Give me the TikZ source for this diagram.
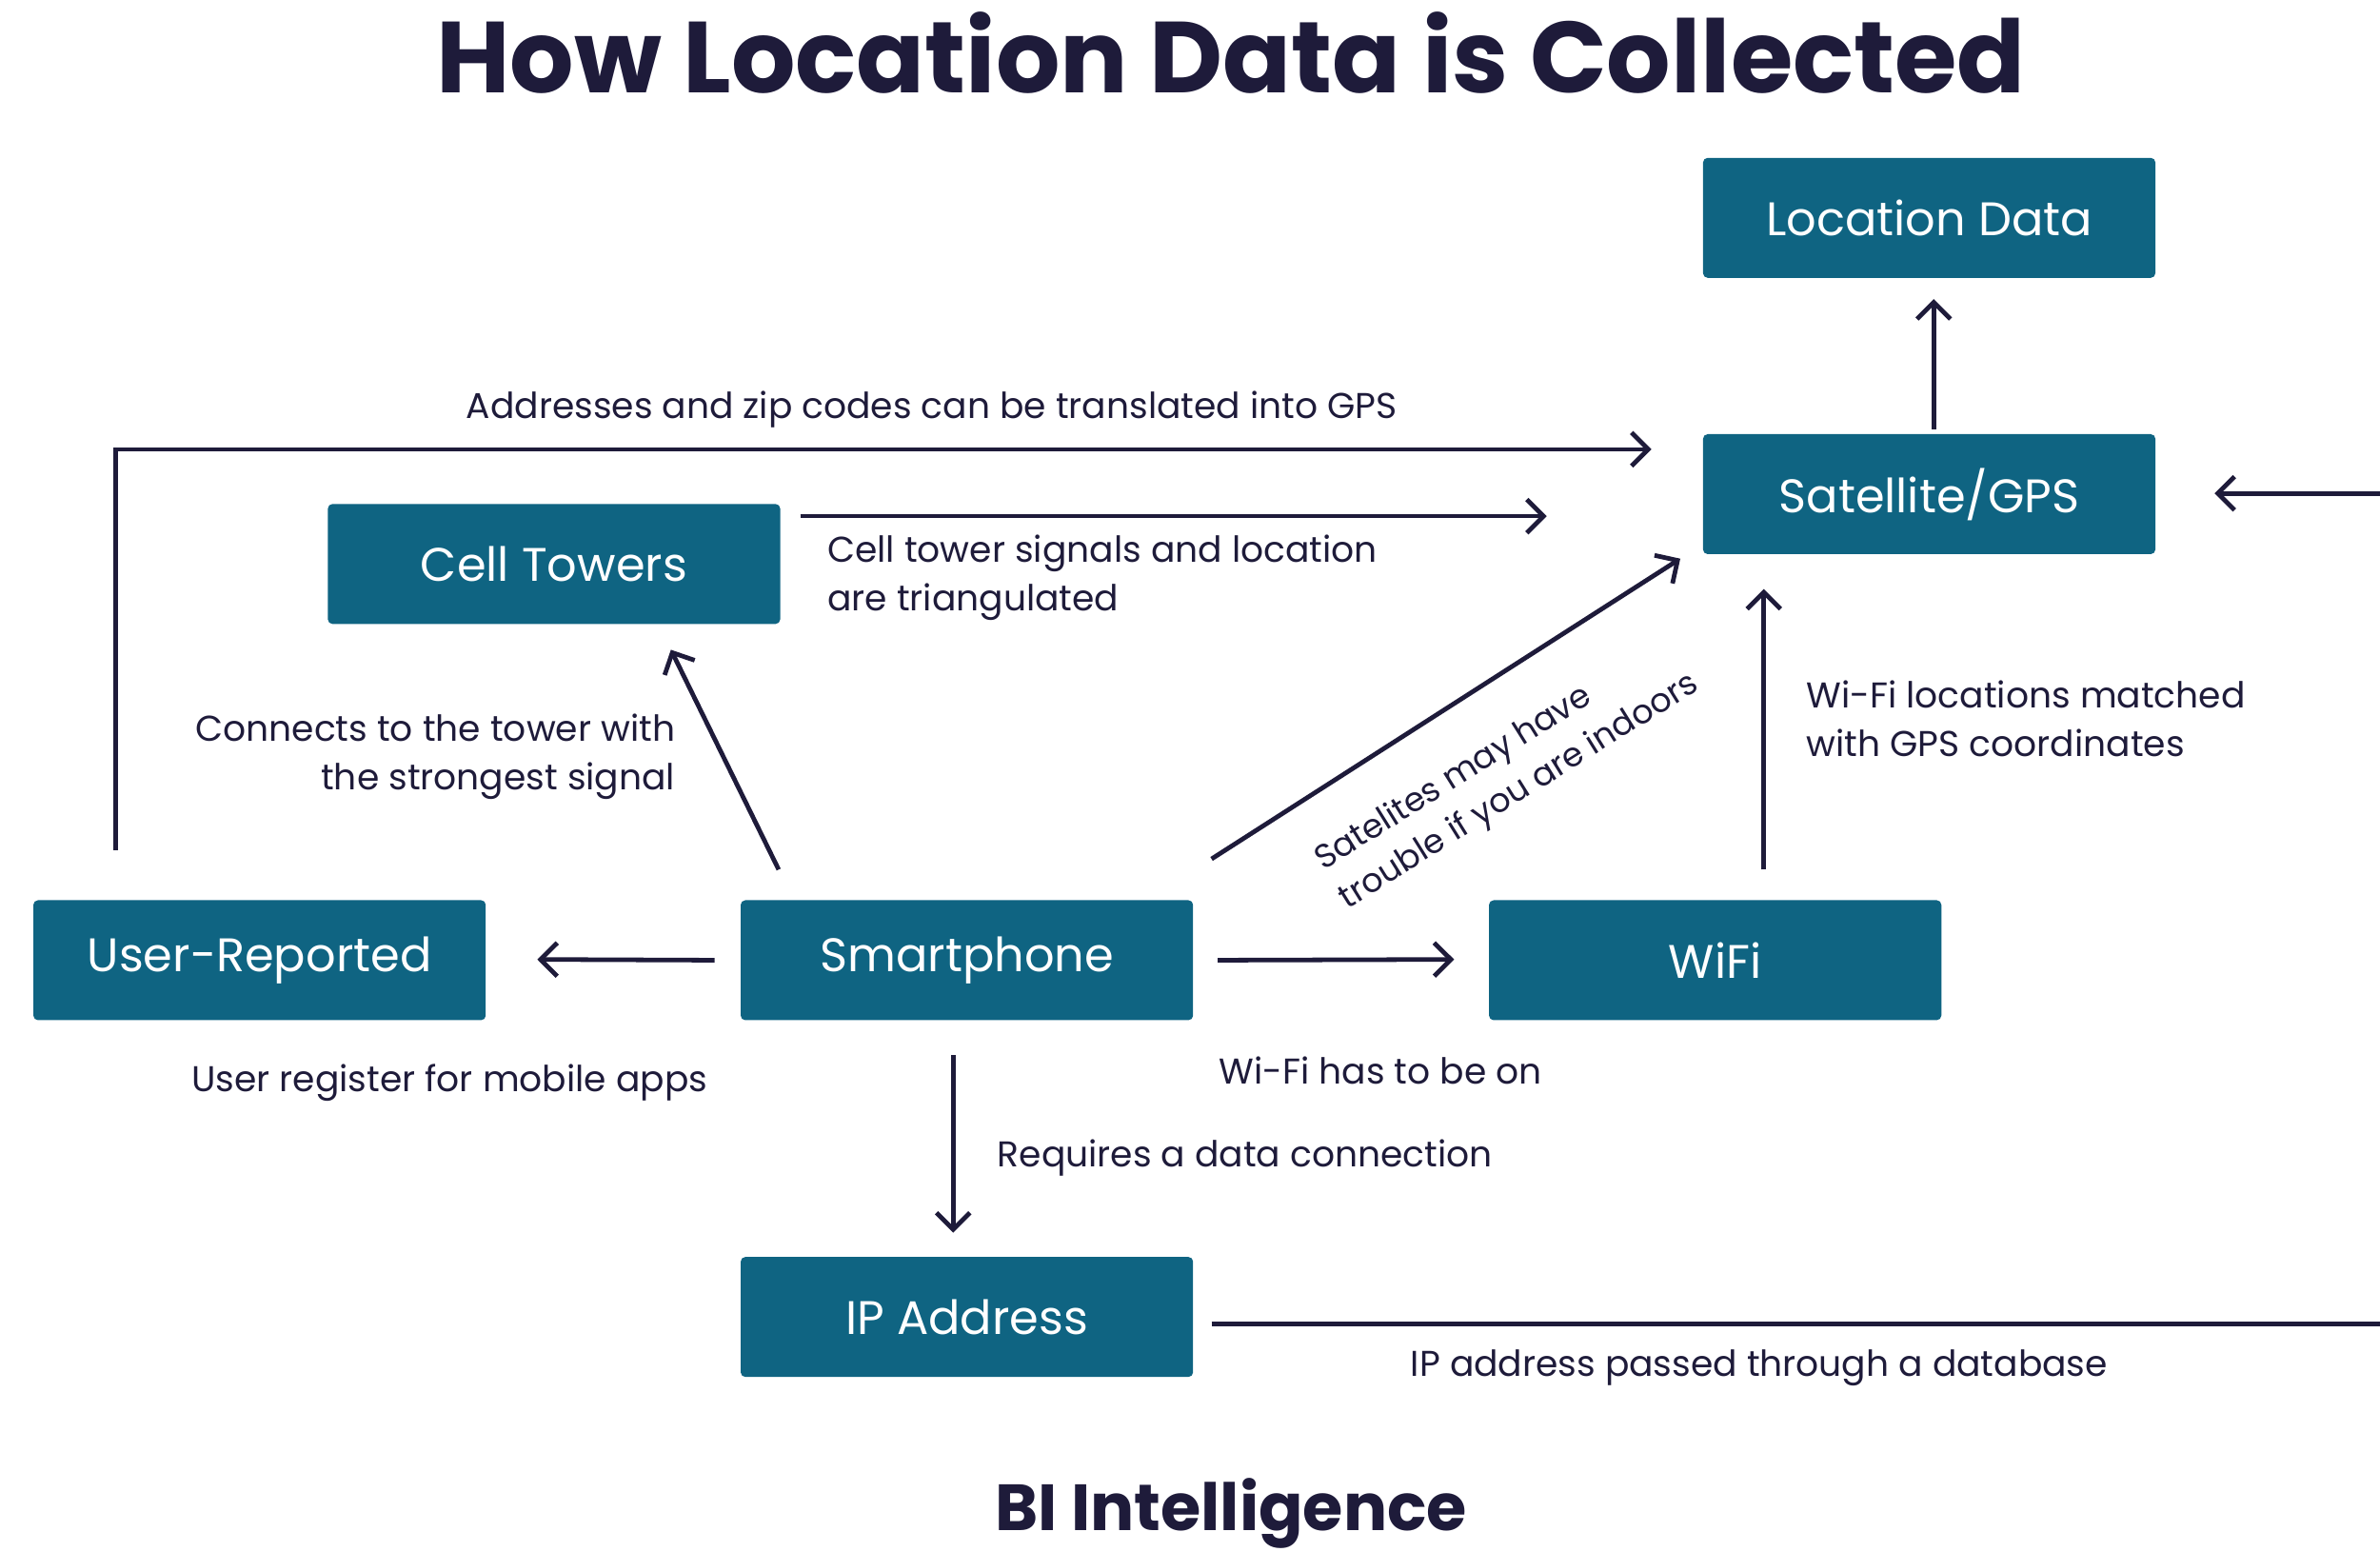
\documentclass[tikz,border=0pt]{standalone}
\usepackage{fontspec}
\setmainfont{Poppins}
\usetikzlibrary{arrows.meta}
\definecolor{boxc}{HTML}{0F6482}
\definecolor{ink}{HTML}{1E1B3A}
\tikzset{
  box/.style={fill=boxc,rounded corners=3pt,minimum width=298pt,minimum height=79pt,inner sep=0pt,text=white,font=\fontsize{31}{36}\selectfont},
  conn/.style={draw=ink,line width=3pt,-{Straight Barb[length=11pt,width=22pt,line width=3pt]}},
  lab/.style={text=ink,font=\fontsize{23.6}{32}\selectfont,inner sep=0pt,align=left},
}
\begin{document}
\begin{tikzpicture}[x=1pt,y=-1pt]
\useasboundingbox (0,0) rectangle (1568,1022);
\node[text=ink,font=\bfseries\fontsize{66.5}{76}\selectfont] (title) at (811,35) {How Location Data is Collected};
\node[text=ink,font=\bfseries\fontsize{43}{50}\selectfont] (foot) at (811,997) {BI Intelligence};

\node[box] (loc) at (1271,143.5) {Location Data};
\node[box] (sat) at (1271,325.5) {Satellite/GPS};
\node[box] (cell) at (365,371.5) {Cell Towers};
\node[box] (user) at (171,632.5) {User-Reported};
\node[box] (smart) at (637,632.5) {Smartphone};
\node[box] (wifi) at (1130,632.5) {WiFi};
\node[box] (ip) at (637,867.5) {IP Address};

\coordinate (rin) at (1568,325);
\coordinate (rout) at (1568,872);

\draw[conn] (sat.north -| 1274,0) ++(0,-3) -- (1274,197);
\draw[conn] (user.north -| 76,0) ++(0,-33) |- (1088,296);
\draw[conn] (cell.east) ++(13,-31.5) -- (1019,340);
\draw[conn] (smart.north) ++(-124,-20) -- (442,428);
\draw[conn] (smart.north east) ++(12,-27) -- (1107,368);
\draw[conn] (wifi.north) ++(32,-20) -- (1162,388);
\draw[conn] (rin) -- (1459,325);
\draw[conn] (smart.west) ++(-17,0) -- (354,632);
\draw[conn] (smart.east) ++(16,0) -- (958,632);
\draw[conn] (smart.south) ++(-9,23) -- (628,812);
\draw[draw=ink,line width=3pt] (ip.east) ++(12,4.5) -- (rout);

\node[lab,anchor=west] (l1) at (307,270) {Addresses and zip codes can be translated into GPS};
\node[lab,anchor=north west] (l2) at (545,352) {Cell tower signals and location\\are triangulated};
\node[lab,anchor=north east,align=right] (l3) at (445,470) {Connects to the tower with\\the strongest signal};
\node[lab,align=left,rotate=32,font=\fontsize{22}{30}\selectfont] (l4) at (993,509) {Satelites may have\\trouble if you are indoors};
\node[lab,anchor=north west] (l5) at (1190,448) {Wi-Fi locations matched\\with GPS coordinates};
\node[lab,anchor=west] (l6) at (126,713) {User register for mobile apps};
\node[lab,anchor=west] (l7) at (803,705) {Wi-Fi has to be on};
\node[lab,anchor=west] (l8) at (657,763) {Requires a data connection};
\node[lab] (l9) at (1159,901) {IP address passed through a database};
\end{tikzpicture}
\end{document}
